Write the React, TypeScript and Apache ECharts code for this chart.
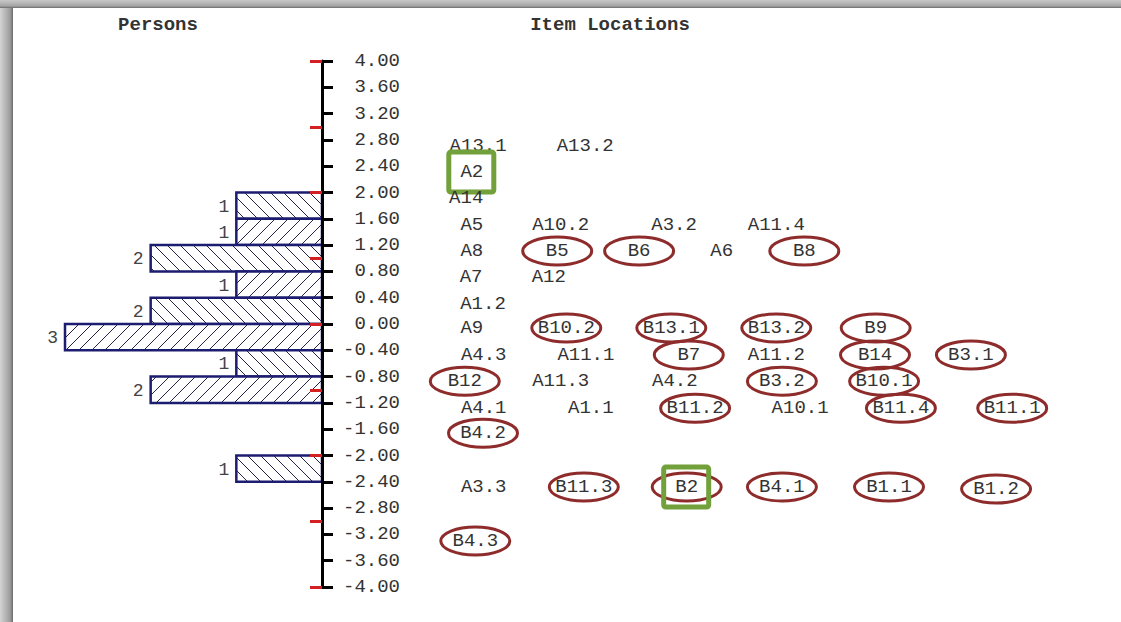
import React, { useEffect, useRef } from "react";
import * as echarts from "echarts";

// Person histogram bins (logit scale) and counts
const binLower = [1.6, 1.2, 0.8, 0.4, 0.0, -0.4, -0.8, -1.2, -2.4];
const binUpper = [2.0, 1.6, 1.2, 0.8, 0.4, 0.0, -0.4, -0.8, -2.0];
const personCounts = [1, 1, 2, 1, 2, 3, 1, 2, 1];

// Axis ticks
const axisMin = -4;
const axisMax = 4;
const tickStep = 0.4;
const markStep = 1;

// Items: name, measure (logits), horizontal slot (0-100 across the item panel)
const itemNames = [
  "A13.1", "A13.2",
  "A2",
  "A14",
  "A5", "A10.2", "A3.2", "A11.4",
  "A8", "B5", "B6", "A6", "B8",
  "A7", "A12",
  "A1.2",
  "A9", "B10.2", "B13.1", "B13.2", "B9",
  "A4.3", "A11.1", "B7", "A11.2", "B14", "B3.1",
  "B12", "A11.3", "A4.2", "B3.2", "B10.1",
  "A4.1", "A1.1", "B11.2", "A10.1", "B11.4", "B11.1",
  "B4.2",
  "A3.3", "B11.3", "B2", "B4.1", "B1.1", "B1.2",
  "B4.3",
];
const itemMeasures = [
  2.71, 2.71,
  2.31,
  1.92,
  1.51, 1.51, 1.51, 1.51,
  1.11, 1.11, 1.11, 1.11, 1.11,
  0.71, 0.71,
  0.30,
  -0.06, -0.06, -0.06, -0.06, -0.06,
  -0.47, -0.47, -0.47, -0.47, -0.47, -0.47,
  -0.87, -0.87, -0.87, -0.87, -0.87,
  -1.28, -1.28, -1.28, -1.28, -1.28, -1.28,
  -1.66,
  -2.48, -2.48, -2.48, -2.48, -2.48, -2.51,
  -3.30,
];
const itemSlots = [
  8.3, 23.6,
  7.4,
  6.6,
  7.4, 20.1, 36.3, 50.9,
  7.4, 19.6, 31.3, 43.1, 54.9,
  7.3, 18.4,
  9.0,
  7.4, 20.9, 35.9, 50.9, 65.1,
  9.1, 23.7, 38.4, 50.9, 65.0, 78.7,
  6.4, 20.1, 36.4, 51.7, 66.3,
  9.1, 24.4, 39.3, 54.3, 68.7, 84.6,
  9.0,
  9.1, 23.4, 38.1, 51.7, 67.0, 82.3,
  7.9,
];
const boxedItems = ["A2", "B2"];

const FONT = "'Liberation Mono', 'Courier New', 'DejaVu Sans Mono', monospace";

function hatchLines(x0: number, y0: number, x1: number, y1: number, forward: boolean, gap: number, style: any) {
  const out: any[] = [];
  if (forward) {
    // "/" : x + y = c
    const cStart = Math.ceil((x0 + y0) / gap) * gap;
    for (let c = cStart; c <= x1 + y1; c += gap) {
      const ya = Math.max(y0, c - x1);
      const yb = Math.min(y1, c - x0);
      if (yb - ya > 0.5) {
        out.push({ type: "line", shape: { x1: c - ya, y1: ya, x2: c - yb, y2: yb }, style });
      }
    }
  } else {
    // "\" : x - y = c
    const cStart = Math.ceil((x0 - y1) / gap) * gap;
    for (let c = cStart; c <= x1 - y0; c += gap) {
      const ya = Math.max(y0, x0 - c);
      const yb = Math.min(y1, x1 - c);
      if (yb - ya > 0.5) {
        out.push({ type: "line", shape: { x1: c + ya, y1: ya, x2: c + yb, y2: yb }, style });
      }
    }
  }
  return out;
}

export default function App() {
  const ref = useRef<HTMLDivElement>(null);

  useEffect(() => {
    document.body.style.margin = "0";
    if (!ref.current) return;
    const chart = echarts.init(ref.current, undefined, { renderer: "svg" });

    const barData = personCounts.map((c, i) => [binLower[i], binUpper[i], c]);
    const itemData = itemNames.map((_, i) => [itemSlots[i], itemMeasures[i]]);

    const option: any = {
      animation: false,
      backgroundColor: "#ffffff",
      grid: [
        { left: 65, width: 257, top: 61, height: 526 },
        { left: 420, width: 700, top: 61, height: 526 },
      ],
      xAxis: [
        { gridIndex: 0, type: "value", min: 0, max: 3, inverse: true, show: false },
        { gridIndex: 1, type: "value", min: 0, max: 100, show: false },
      ],
      yAxis: [
        {
          gridIndex: 0,
          type: "value",
          position: "right",
          min: axisMin,
          max: axisMax,
          interval: tickStep,
          z: 10,
          axisLine: { show: true, onZero: false, lineStyle: { color: "#000", width: 3 } },
          axisTick: { show: true, length: 11, lineStyle: { color: "#000", width: 3 } },
          axisLabel: {
            margin: 78,
            align: "right",
            color: "#333",
            fontFamily: FONT,
            fontSize: 19,
            formatter: (v: number) => v.toFixed(2),
          },
          splitLine: { show: false },
        },
        {
          gridIndex: 0,
          type: "value",
          position: "right",
          min: axisMin,
          max: axisMax,
          interval: markStep,
          z: 11,
          axisLine: { show: false },
          axisTick: { show: true, inside: true, length: 12, lineStyle: { color: "#d42020", width: 3 } },
          axisLabel: { show: false },
          splitLine: { show: false },
        },
        { gridIndex: 1, type: "value", min: axisMin, max: axisMax, show: false },
      ],
      graphic: [
        {
          type: "rect",
          shape: { x: 0, y: 0, width: 13, height: 622 },
          style: {
            fill: new echarts.graphic.LinearGradient(0, 0, 1, 0, [
              { offset: 0, color: "#d4d4d4" },
              { offset: 0.8, color: "#9a9a9a" },
              { offset: 1, color: "#6a6a6a" },
            ]),
          },
          z: 100,
        },
        {
          type: "rect",
          shape: { x: 0, y: 0, width: 1121, height: 8 },
          style: {
            fill: new echarts.graphic.LinearGradient(0, 0, 0, 1, [
              { offset: 0, color: "#c8c8c8" },
              { offset: 0.75, color: "#a4a4a4" },
              { offset: 1, color: "#6a6a6a" },
            ]),
          },
          z: 100,
        },
        {
          type: "text",
          x: 158,
          y: 25,
          style: { text: "Persons", fill: "#333", font: `bold 19px ${FONT}`, align: "center", verticalAlign: "middle" },
        },
        {
          type: "text",
          x: 610,
          y: 25,
          style: { text: "Item Locations", fill: "#333", font: `bold 19px ${FONT}`, align: "center", verticalAlign: "middle" },
        },
      ],
      series: [
        {
          type: "custom",
          xAxisIndex: 0,
          yAxisIndex: 0,
          z: 2,
          data: barData,
          renderItem: (params: any, api: any) => {
            const lo = api.value(0);
            const hi = api.value(1);
            const cnt = api.value(2);
            const pRight = api.coord([0, hi]);
            const pLeft = api.coord([cnt, lo]);
            const x0 = Math.min(pLeft[0], pRight[0]);
            const x1 = Math.max(pLeft[0], pRight[0]);
            const y0 = Math.min(pLeft[1], pRight[1]);
            const y1 = Math.max(pLeft[1], pRight[1]);
            const forward = params.dataIndex % 2 === 1;
            const lines = hatchLines(x0, y0, x1, y1, forward, 13, { stroke: "#23234a", lineWidth: 1 });
            return {
              type: "group",
              children: [
                { type: "rect", shape: { x: x0, y: y0, width: x1 - x0, height: y1 - y0 }, style: { fill: "#fff" } },
                ...lines,
                {
                  type: "rect",
                  shape: { x: x0, y: y0, width: x1 - x0, height: y1 - y0 },
                  style: { fill: "none", stroke: "#1c1c70", lineWidth: 2.5 },
                },
                {
                  type: "text",
                  x: x0 - 7,
                  y: (y0 + y1) / 2 + 1,
                  style: {
                    text: String(cnt),
                    fill: "#444",
                    font: `18px ${FONT}`,
                    align: "right",
                    verticalAlign: "middle",
                  },
                },
              ],
            };
          },
        },
        {
          type: "custom",
          xAxisIndex: 1,
          yAxisIndex: 2,
          z: 3,
          data: itemData,
          renderItem: (params: any, api: any) => {
            const name = itemNames[params.dataIndex];
            const p = api.coord([api.value(0), api.value(1)]);
            const children: any[] = [
              {
                type: "text",
                x: p[0],
                y: p[1],
                style: { text: name, fill: "#333", font: `19px ${FONT}`, align: "center", verticalAlign: "middle" },
              },
            ];
            if (name.charAt(0) === "B") {
              children.push({
                type: "ellipse",
                shape: { cx: p[0], cy: p[1], rx: 34.5, ry: 14 },
                style: { fill: "none", stroke: "#8e2b2b", lineWidth: 3 },
              });
            }
            if (boxedItems.indexOf(name) >= 0) {
              children.push({
                type: "rect",
                shape: { x: p[0] - 23, y: p[1] - 20, width: 45, height: 40, r: 2 },
                style: { fill: "none", stroke: "#72a03a", lineWidth: 5 },
              });
            }
            return { type: "group", children };
          },
        },
      ],
    };

    chart.setOption(option);
    return () => chart.dispose();
  }, []);

  return <div ref={ref} style={{ width: 1121, height: 622 }} />;
}
